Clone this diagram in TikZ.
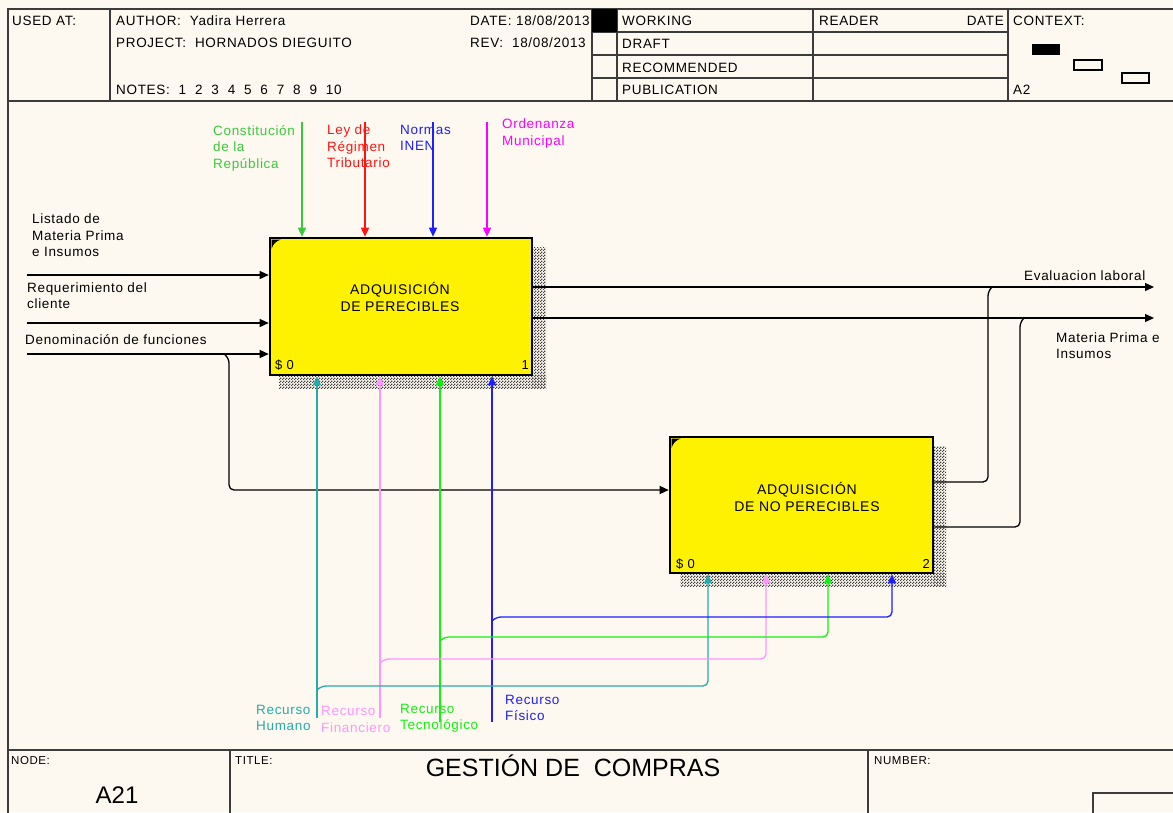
\documentclass[tikz,border=0pt]{standalone}
\usepackage{fontspec}
\setmainfont{Liberation Sans}[LetterSpace=5]
\newfontfamily\titlefont{Liberation Sans}
\usetikzlibrary{arrows.meta,patterns}
\pgfdeclarepatternformonly{shadowdots}{\pgfpointorigin}{\pgfpoint{3pt}{3pt}}{\pgfpoint{3pt}{3pt}}{%
  \pgfpathrectangle{\pgfpointorigin}{\pgfpoint{1.5pt}{1.5pt}}%
  \pgfpathrectangle{\pgfpoint{1.5pt}{1.5pt}}{\pgfpoint{1.5pt}{1.5pt}}%
  \pgfusepath{fill}}
\definecolor{bg}{RGB}{253,249,240}
\definecolor{cgreen}{RGB}{60,200,60}
\definecolor{cred}{RGB}{255,20,20}
\definecolor{cblue}{RGB}{30,30,255}
\definecolor{cmag}{RGB}{255,0,255}
\definecolor{cteal}{RGB}{40,170,170}
\definecolor{cpink}{RGB}{255,150,255}
\definecolor{clime}{RGB}{20,240,20}
\definecolor{frame}{RGB}{60,60,60}
\tikzset{
  txt/.style={inner sep=0pt, anchor=north west, align=left, font=\fontsize{13.5}{16.5}\selectfont},
  hdr/.style={inner sep=0pt, anchor=base west, font=\fontsize{13.5}{16}\selectfont},
  small/.style={inner sep=0pt, anchor=base west, font=\fontsize{11.5}{13}\selectfont},
  act/.style={draw=black, line width=2.6pt, fill=yellow, rectangle, inner sep=0pt,
    align=center, font=\fontsize{14}{17.5}\selectfont},
  arr/.style={line width=1.3pt, -{Triangle[length=9pt,width=8pt]}},
  plain/.style={line width=1.3pt},
  shade/.style={pattern=shadowdots, pattern color=black!75},
  fr/.style={draw=frame, line width=1.3pt},
  corner/.style={fill=black},
}
\begin{document}
\begin{tikzpicture}[x=1pt,y=-1pt]
\useasboundingbox (0,0) rectangle (1173,812);
\fill[bg] (0,0) rectangle (1173,812);
\clip (0,0) rectangle (1173,812);
% ---------------- frame -----------------
\draw[fr] (8,830) -- (8,9) -- (1180,9);
\draw[fr] (8,101) -- (1180,101);
\draw[fr] (8,750) -- (1180,750);
\draw[fr] (110,9) -- (110,101);
\draw[fr] (592,9) -- (592,101);
\draw[fr] (617,9) -- (617,101);
\draw[fr] (813,9) -- (813,101);
\draw[fr] (1008,9) -- (1008,101);
\draw[fr] (592,32) -- (1008,32);
\draw[fr] (592,55) -- (1008,55);
\draw[fr] (592,78) -- (1008,78);
\fill[black] (592,9) rectangle (617,32);
\draw[fr] (230,750) -- (230,830);
\draw[fr] (868,750) -- (868,830);
\draw[fr] (1093,830) -- (1093,793) -- (1180,793);
% context
\fill[black] (1032,44) rectangle (1060,55);
\draw[line width=1.2pt] (1074,60) rectangle (1102,70);
\draw[line width=1.2pt] (1122,73) rectangle (1149,83);
% header texts
\node[hdr] (usedat) at (12,25) {USED AT:};
\node[hdr] (author) at (116,25) {AUTHOR:\ \ Yadira Herrera};
\node[hdr] (project) at (116,47) {PROJECT:\ \ HORNADOS DIEGUITO};
\node[hdr] (notes) at (116,94) {NOTES:\ \ 1\ \ 2\ \ 3\ \ 4\ \ 5\ \ 6\ \ 7\ \ 8\ \ 9\ \ 10};
\node[hdr] (date) at (470,25) {DATE: 18/08/2013};
\node[hdr] (rev) at (470,47) {REV:\ \ 18/08/2013};
\node[hdr] (working) at (622,25) {WORKING};
\node[hdr] (draft) at (622,48) {DRAFT};
\node[hdr] (recom) at (622,72) {RECOMMENDED};
\node[hdr] (public) at (622,94) {PUBLICATION};
\node[hdr] (reader) at (819,25) {READER};
\node[hdr, anchor=base east] (rdate) at (1004,25) {DATE};
\node[hdr] (context) at (1013,25) {CONTEXT:};
\node[hdr] (a2) at (1013,94) {A2};
% footer texts
\node[small] (nodelbl) at (11,764) {NODE:};
\node[small] (titlelbl) at (235,764) {TITLE:};
\node[small] (numlbl) at (874,764) {NUMBER:};
\node[inner sep=0pt, anchor=base, font=\titlefont\fontsize{24}{28}\selectfont] (a21) at (117,803) {A21};
\node[inner sep=0pt, anchor=base, font=\titlefont\fontsize{25}{28}\selectfont] (title) at (573,776) {GESTIÓN DE\ \ COMPRAS};
% ---------------- shadows -----------------
\fill[shade] (532,247) rectangle (546,388);
\fill[shade] (279,375) rectangle (546,388);
\fill[shade] (933,446) rectangle (946,586);
\fill[shade] (680,573) rectangle (946,586);
% ---------------- boxes -----------------
\node[act, minimum width=262pt, minimum height=137pt] (b1) at (401,306.5) {};
\node[act, minimum width=263pt, minimum height=136pt] (b2) at (801.5,505) {};
\node[inner sep=0pt, align=center, font=\fontsize{14}{17.5}\selectfont] (b1t) at (400,297) {ADQUISICIÓN\\DE PERECIBLES};
\node[inner sep=0pt, align=center, font=\fontsize{14}{17.5}\selectfont] (b2t) at (807,497) {ADQUISICIÓN\\DE NO PERECIBLES};
\node[small, font=\fontsize{13}{15}\selectfont] (b1s) at (275,369) {\$ 0};
\node[small, anchor=base east, font=\fontsize{13}{15}\selectfont] (b1n) at (529,369) {1};
\node[small, font=\fontsize{13}{15}\selectfont] (b2s) at (676,568) {\$ 0};
\node[small, anchor=base east, font=\fontsize{13}{15}\selectfont] (b2n) at (930,568) {2};
\fill[corner] (271.5,239.5) -- (281,239.5) .. controls (276,241) and (273,244) .. (271.5,249) -- cycle;
\fill[corner] (671.5,438.5) -- (681,438.5) .. controls (676,440) and (673,443) .. (671.5,448) -- cycle;
% ---------------- controls -----------------
\coordinate (k1) at (302,122);
\coordinate (k2) at (365,122);
\coordinate (k3) at (433,122);
\coordinate (k4) at (487,122);
\draw[arr, cgreen] (k1) -- (k1 |- b1.north);
\draw[arr, cred] (k2) -- (k2 |- b1.north);
\draw[arr, cblue] (k3) -- (k3 |- b1.north);
\draw[arr, cmag] (k4) -- (k4 |- b1.north);
\node[txt, text=cgreen] (l1) at (213,125) {Constitución\\de la\\República};
\node[txt, text=cred] (l2) at (327,125) {Ley de\\Régimen\\Tributario};
\node[txt, text=cblue] (l3) at (400,125) {Normas\\INEN};
\node[txt, text=cmag] (l4) at (502,119) {Ordenanza\\Municipal};
% ---------------- inputs -----------------
\coordinate (i1) at (27,275);
\coordinate (i2) at (27,323);
\coordinate (i3) at (27,354);
\draw[arr] (i1) -- (i1 -| b1.west);
\draw[arr] (i2) -- (i2 -| b1.west);
\draw[arr] (i3) -- (i3 -| b1.west);
\coordinate (j3) at (224,354);
\coordinate (j3b) at (229,490);
\draw[arr, rounded corners=5pt] (j3) -- (229,358) -- (j3b) -- (j3b -| b2.west);
\node[txt] (li1) at (32,214) {Listado de\\Materia Prima\\e Insumos};
\node[txt, font=\fontsize{13.5}{16}\selectfont] (li2) at (27,283) {Requerimiento del\\cliente};
\node[txt] (li3) at (25,334) {Denominación de funciones};
% ---------------- outputs -----------------
\coordinate (o1) at (1154,287);
\coordinate (o2) at (1154,318);
\draw[arr] (o1 -| b1.east) -- (o1);
\draw[arr] (o2 -| b1.east) -- (o2);
\coordinate (p1) at (988,482);
\coordinate (p2) at (1020,527);
\draw[plain, rounded corners=5pt] (p1 -| b2.east) -- (p1) -- (988,291) -- (992,287);
\draw[plain, rounded corners=5pt] (p2 -| b2.east) -- (p2) -- (1020,322) -- (1024,318);
\node[txt] (lo1) at (1024,271) {Evaluacion laboral};
\node[txt, font=\fontsize{13.5}{16}\selectfont] (lo2) at (1056,333) {Materia Prima e\\Insumos};
% ---------------- mechanisms -----------------
\coordinate (m1) at (317,718);
\coordinate (m2) at (380,718);
\coordinate (m3) at (440,722);
\coordinate (m4) at (492,722);
\draw[arr, cteal] (m1) -- (m1 |- b1.south);
\draw[arr, cpink] (m2) -- (m2 |- b1.south);
\draw[arr, clime] (m3) -- (m3 |- b1.south);
\draw[arr, cblue] (m4) -- (m4 |- b1.south);
\coordinate (n1) at (317,690);
\coordinate (n2) at (380,663);
\coordinate (n3) at (440,641);
\coordinate (n4) at (492,621);
\coordinate (q1) at (708,686);
\coordinate (q2) at (766,659);
\coordinate (q3) at (828,637);
\coordinate (q4) at (892,617);
\draw[arr, cteal, rounded corners=5pt] (n1) -- (321,686) -- (q1) -- (q1 |- b2.south);
\draw[arr, cpink, rounded corners=5pt] (n2) -- (384,659) -- (q2) -- (q2 |- b2.south);
\draw[arr, clime, rounded corners=5pt] (n3) -- (444,637) -- (q3) -- (q3 |- b2.south);
\draw[arr, cblue, rounded corners=5pt] (n4) -- (496,617) -- (q4) -- (q4 |- b2.south);
\node[txt, text=cteal] (lm1) at (256,705) {Recurso\\Humano};
\node[txt, text=cpink] (lm2) at (321,706) {Recurso\\Financiero};
\node[txt, text=clime] (lm3) at (400,704) {Recurso\\Tecnológico};
\node[txt, text=cblue] (lm4) at (505,695) {Recurso\\Físico};
\end{tikzpicture}
\end{document}
